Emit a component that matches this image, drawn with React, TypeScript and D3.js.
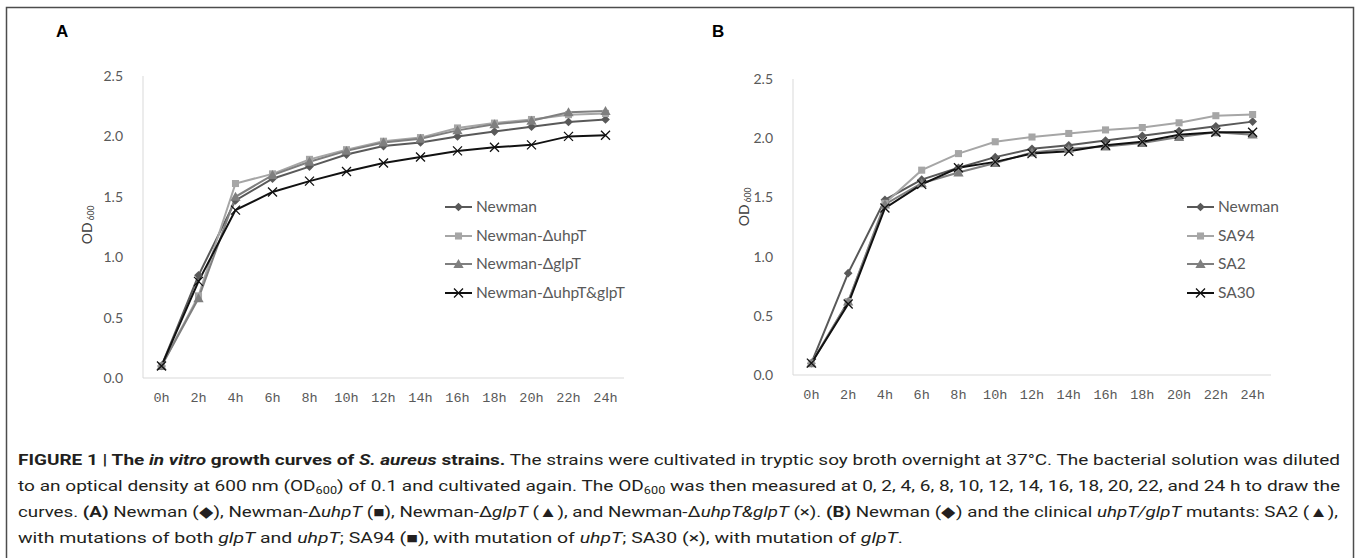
import React from 'react';
import * as d3 from 'd3';

const hours = ['0h', '2h', '4h', '6h', '8h', '10h', '12h', '14h', '16h', '18h', '20h', '22h', '24h'];
const yTicks = [0, 0.5, 1.0, 1.5, 2.0, 2.5];

// panel A
const namesA = ['Newman', 'Newman-ΔuhpT', 'Newman-ΔglpT', 'Newman-ΔuhpT&glpT'];
const newmanA = [0.1, 0.85, 1.47, 1.65, 1.75, 1.85, 1.92, 1.95, 2.0, 2.04, 2.08, 2.12, 2.14];
const uhpA = [0.1, 0.68, 1.61, 1.69, 1.81, 1.89, 1.96, 1.99, 2.07, 2.11, 2.14, 2.18, 2.19];
const glpA = [0.1, 0.66, 1.5, 1.68, 1.79, 1.88, 1.95, 1.98, 2.05, 2.1, 2.13, 2.2, 2.21];
const bothA = [0.1, 0.8, 1.39, 1.54, 1.63, 1.71, 1.78, 1.83, 1.88, 1.91, 1.93, 2.0, 2.01];

// panel B
const namesB = ['Newman', 'SA94', 'SA2', 'SA30'];
const newmanB = [0.1, 0.86, 1.48, 1.65, 1.75, 1.84, 1.91, 1.94, 1.98, 2.02, 2.06, 2.1, 2.14];
const sa94 = [0.1, 0.62, 1.45, 1.73, 1.87, 1.97, 2.01, 2.04, 2.07, 2.09, 2.13, 2.19, 2.2];
const sa2 = [0.1, 0.62, 1.44, 1.62, 1.71, 1.79, 1.88, 1.91, 1.93, 1.96, 2.01, 2.05, 2.03];
const sa30 = [0.1, 0.6, 1.41, 1.61, 1.75, 1.8, 1.87, 1.89, 1.94, 1.97, 2.03, 2.05, 2.05];

const looks = [
  { color: '#595959', marker: 'diamond' },
  { color: '#a6a6a6', marker: 'square' },
  { color: '#7f7f7f', marker: 'triangle' },
  { color: '#111111', marker: 'times' },
];

const axisGrey = '#595959';
const labelFont = 'Lato, Open Sans, sans-serif';

function Marker({ kind, color, x, y }) {
  if (kind === 'times') {
    const s = 4.5;
    return <path d={`M${x - s},${y - s}L${x + s},${y + s}M${x - s},${y + s}L${x + s},${y - s}`} stroke={color} strokeWidth={1.3} fill="none" />;
  }
  if (kind === 'diamond') {
    return <path d={d3.symbol(d3.symbolSquare, 38)()} transform={`translate(${x},${y}) rotate(45)`} fill={color} />;
  }
  if (kind === 'square') {
    return <path d={d3.symbol(d3.symbolSquare, 50)()} transform={`translate(${x},${y})`} fill={color} />;
  }
  return <path d={d3.symbol(d3.symbolTriangle, 46)()} transform={`translate(${x},${y + 1})`} fill={color} />;
}

function Panel({ letter, letterX, left, right, top, bottom, names, series, legendX, titleX, titleY }) {
  const x = d3.scalePoint().domain(hours).range([left, right]).padding(0.5);
  const y = d3.scaleLinear().domain([0, 2.5]).range([bottom, top]);
  const line = d3.line().x((d, i) => x(hours[i])).y(d => y(d));
  const legendRows = [207, 236, 264, 293];

  return (
    <g>
      <text x={letterX} y={37} fontFamily="Liberation Sans, Arial, sans-serif" fontWeight="bold" fontSize={17} fill="#000">{letter}</text>

      <line x1={left} x2={left} y1={top} y2={bottom} stroke="#d9d9d9" strokeWidth={1} />
      <line x1={left} x2={right} y1={bottom} y2={bottom} stroke="#d9d9d9" strokeWidth={1} />

      {yTicks.map(t => (
        <text key={t} x={left - 20} y={y(t)} dy="0.35em" textAnchor="end" fontFamily={labelFont} fontSize={14} fill={axisGrey}>{t.toFixed(1)}</text>
      ))}
      {hours.map(h => (
        <text key={h} x={x(h)} y={bottom + 24} textAnchor="middle" fontFamily="Liberation Mono, DejaVu Sans Mono, monospace" fontSize={13.5} fill={axisGrey}>{h}</text>
      ))}

      <text transform={`translate(${titleX},${titleY}) rotate(-90)`} textAnchor="middle" fontFamily={labelFont} fontSize={14} fill="#404040">
        OD<tspan fontSize={8.5} dx={2} dy={2}>600</tspan>
      </text>

      {series.map((vals, si) => (
        <path key={si} d={line(vals)} fill="none" stroke={looks[si].color} strokeWidth={2} />
      ))}
      {series.map((vals, si) => vals.map((v, i) => (
        <Marker key={`${si}-${i}`} kind={looks[si].marker} color={looks[si].color} x={x(hours[i])} y={y(v)} />
      )))}

      {names.map((n, i) => (
        <g key={n}>
          <line x1={legendX} x2={legendX + 27} y1={legendRows[i]} y2={legendRows[i]} stroke={looks[i].color} strokeWidth={2} />
          <Marker kind={looks[i].marker} color={looks[i].color} x={legendX + 13.5} y={legendRows[i]} />
          <text x={legendX + 31} y={legendRows[i]} dy="0.35em" fontFamily={labelFont} fontSize={15.5} fill={axisGrey}>{n}</text>
        </g>
      ))}
    </g>
  );
}

const capFont = 'Liberation Sans Narrow, Roboto, Liberation Sans, sans-serif';

export default function App() {
  return (
    <svg width={1358} height={558} style={{ position: 'absolute', left: 0, top: 0, background: '#fff' }}>
      <rect x={6.5} y={7.5} width={1347} height={600} fill="#fff" stroke="#4d4d4d" strokeWidth={1.5} />

      <Panel letter="A" letterX={56} left={143} right={624} top={76} bottom={378}
        names={namesA} series={[newmanA, uhpA, glpA, bothA]} legendX={445} titleX={92} titleY={225} />
      <Panel letter="B" letterX={712} left={793} right={1271} top={79} bottom={375}
        names={namesB} series={[newmanB, sa94, sa2, sa30]} legendX={1187} titleX={749} titleY={207} />

      <g fontFamily={capFont} fontSize={15} fill="#231f20">
        <text x={18} y={465} textLength={1322} lengthAdjust="spacingAndGlyphs">
          <tspan fontWeight="bold">FIGURE 1 | The </tspan>
          <tspan fontWeight="bold" fontStyle="italic">in vitro</tspan>
          <tspan fontWeight="bold"> growth curves of </tspan>
          <tspan fontWeight="bold" fontStyle="italic">S. aureus</tspan>
          <tspan fontWeight="bold"> strains.</tspan>
          <tspan> The strains were cultivated in tryptic soy broth overnight at 37°C. The bacterial solution was diluted</tspan>
        </text>
        <text x={18} y={491} textLength={1322} lengthAdjust="spacingAndGlyphs">
          <tspan>to an optical density at 600 nm (OD</tspan>
          <tspan fontSize={10} dy={3}>600</tspan>
          <tspan dy={-3}>) of 0.1 and cultivated again. The OD</tspan>
          <tspan fontSize={10} dy={3}>600</tspan>
          <tspan dy={-3}> was then measured at 0, 2, 4, 6, 8, 10, 12, 14, 16, 18, 20, 22, and 24 h to draw the</tspan>
        </text>
        <text x={18} y={517} textLength={1320} lengthAdjust="spacingAndGlyphs">
          <tspan>curves. </tspan>
          <tspan fontWeight="bold">(A)</tspan>
          <tspan> Newman (◆), Newman-Δ</tspan>
          <tspan fontStyle="italic">uhpT</tspan>
          <tspan> (■), Newman-Δ</tspan>
          <tspan fontStyle="italic">glpT</tspan>
          <tspan> (▲), and Newman-Δ</tspan>
          <tspan fontStyle="italic">uhpT&amp;glpT</tspan>
          <tspan> (×). </tspan>
          <tspan fontWeight="bold">(B)</tspan>
          <tspan> Newman (◆) and the clinical </tspan>
          <tspan fontStyle="italic">uhpT/glpT</tspan>
          <tspan> mutants: SA2 (▲),</tspan>
        </text>
        <text x={18} y={543} textLength={885} lengthAdjust="spacingAndGlyphs">
          <tspan>with mutations of both </tspan>
          <tspan fontStyle="italic">glpT</tspan>
          <tspan> and </tspan>
          <tspan fontStyle="italic">uhpT</tspan>
          <tspan>; SA94 (■), with mutation of </tspan>
          <tspan fontStyle="italic">uhpT</tspan>
          <tspan>; SA30 (×), with mutation of </tspan>
          <tspan fontStyle="italic">glpT</tspan>
          <tspan>.</tspan>
        </text>
      </g>
    </svg>
  );
}
